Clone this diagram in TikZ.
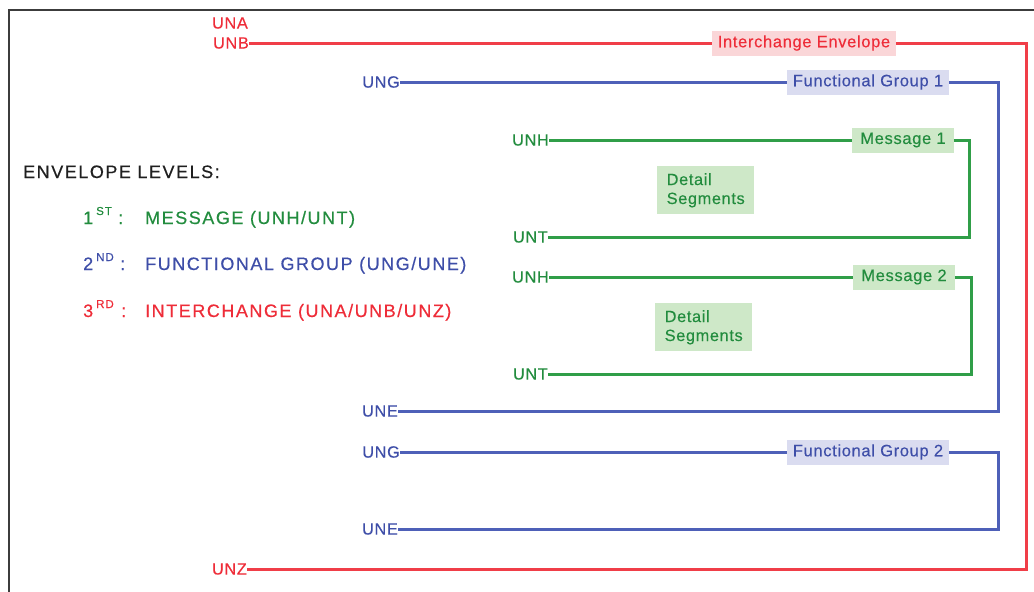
\documentclass[tikz,border=0pt]{standalone}
\usepackage{fontspec}
\setmainfont{Liberation Sans}
\newfontfamily\labfont[LetterSpace=4,FakeBold=0.3]{Liberation Sans}
\newfontfamily\legfont[LetterSpace=8.5,FakeBold=0.5]{Liberation Sans}
\definecolor{envred}{RGB}{238,44,56}
\definecolor{envblue}{RGB}{62,78,168}
\definecolor{envgreen}{RGB}{34,140,62}
\definecolor{linered}{RGB}{240,62,72}
\definecolor{lineblue}{RGB}{78,96,184}
\definecolor{linegreen}{RGB}{48,158,72}
\definecolor{redfill}{RGB}{250,214,216}
\definecolor{bluefill}{RGB}{218,220,240}
\definecolor{greenfill}{RGB}{206,232,200}
\definecolor{framegray}{RGB}{60,60,60}
\begin{document}
\begin{tikzpicture}[x=1pt,y=-1pt,
  seg/.style={font=\labfont\fontsize{16.3}{19}\selectfont, inner sep=0pt, anchor=east},
  tag/.style={font=\labfont\fontsize{16.5}{19}\selectfont, inner xsep=6pt, inner ysep=0pt, minimum height=25pt},
  detail/.style={font=\labfont\fontsize{16.3}{19}\selectfont, anchor=north west, fill=greenfill, text=envgreen,
     inner xsep=7pt, inner ysep=7pt, align=left, minimum width=97pt, minimum height=48pt},
  leg/.style={font=\legfont\fontsize{18}{21}\selectfont, anchor=base west, inner sep=0pt},
  sup/.style={font=\legfont\fontsize{11.5}{13}\selectfont, anchor=base west, inner sep=0pt},
  redline/.style={draw=linered, line width=3pt},
  blueline/.style={draw=lineblue, line width=3pt},
  greenline/.style={draw=linegreen, line width=3pt}]
\useasboundingbox (0,0) rectangle (1034,592);
% frame
\coordinate (fbl) at (9,592);
\coordinate (ftr) at (1034,10);
\draw[framegray, line width=1.3pt] (fbl) |- (ftr);

% interchange (red)
\node[seg,text=envred] (una) at (248,23) {UNA};
\node[seg,text=envred] (unb) at (249,43) {UNB};
\node[tag,fill=redfill,text=envred] (ie) at (804,43) {Interchange Envelope};
\coordinate (rc) at (1026,43);
\node[seg,text=envred] (unz) at (247,569) {UNZ};
\draw[redline] (unb.east) -- (ie.west);
\draw[redline] (ie.east) -- (rc) |- (unz.east);

% functional group 1 (blue)
\node[seg,text=envblue] (ung1) at (400,82) {UNG};
\node[tag,fill=bluefill,text=envblue] (fg1) at (868,82) {Functional Group 1};
\coordinate (bc1) at (998,82);
\node[seg,text=envblue] (une1) at (398,411) {UNE};
\draw[blueline] (ung1.east) -- (fg1.west);
\draw[blueline] (fg1.east) -- (bc1) |- (une1.east);

% message 1 (green)
\node[seg,text=envgreen] (unh1) at (549,140) {UNH};
\node[tag,fill=greenfill,text=envgreen,inner xsep=8pt] (m1) at (903,140) {Message 1};
\coordinate (gc1) at (969,140);
\node[seg,text=envgreen] (unt1) at (548,237) {UNT};
\draw[greenline] (unh1.east) -- (m1.west);
\draw[greenline] (m1.east) -- (gc1) |- (unt1.east);
\node[detail] (d1) at (657,166) {Detail\\Segments};

% message 2 (green)
\node[seg,text=envgreen] (unh2) at (549,277) {UNH};
\node[tag,fill=greenfill,text=envgreen,inner xsep=8pt] (m2) at (904,277) {Message 2};
\coordinate (gc2) at (971,277);
\node[seg,text=envgreen] (unt2) at (548,374) {UNT};
\draw[greenline] (unh2.east) -- (m2.west);
\draw[greenline] (m2.east) -- (gc2) |- (unt2.east);
\node[detail] (d2) at (655,303) {Detail\\Segments};

% functional group 2 (blue)
\node[seg,text=envblue] (ung2) at (400,452) {UNG};
\node[tag,fill=bluefill,text=envblue] (fg2) at (868,452) {Functional Group 2};
\coordinate (bc2) at (998,452);
\node[seg,text=envblue] (une2) at (398,529) {UNE};
\draw[blueline] (ung2.east) -- (fg2.west);
\draw[blueline] (fg2.east) -- (bc2) |- (une2.east);

% legend
\node[leg,text=black!88] (lvl) at (23,178) {ENVELOPE LEVELS:};
\node[leg,text=envgreen] (l1n) at (83,224) {1};
\node[sup,text=envgreen] (l1s) at (96,215) {ST};
\node[leg,text=envgreen] (l1c) at (118,224) {:};
\node[leg,text=envgreen] (l1t) at (145,224) {MESSAGE (UNH/UNT)};
\node[leg,text=envblue] (l2n) at (83,270) {2};
\node[sup,text=envblue] (l2s) at (96,261) {ND};
\node[leg,text=envblue] (l2c) at (120,270) {:};
\node[leg,text=envblue] (l2t) at (145,270) {FUNCTIONAL GROUP (UNG/UNE)};
\node[leg,text=envred] (l3n) at (83,317) {3};
\node[sup,text=envred] (l3s) at (96,308) {RD};
\node[leg,text=envred] (l3c) at (121,317) {:};
\node[leg,text=envred] (l3t) at (145,317) {INTERCHANGE (UNA/UNB/UNZ)};
\end{tikzpicture}
\end{document}
